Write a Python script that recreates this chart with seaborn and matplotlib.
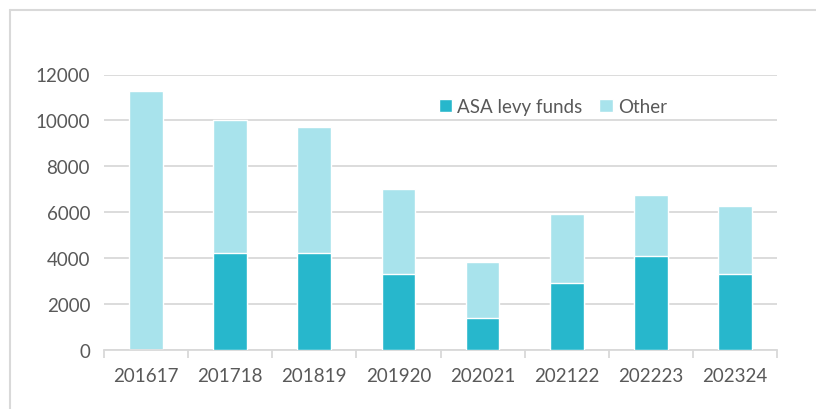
import matplotlib
matplotlib.use("Agg")
import matplotlib.pyplot as plt
import seaborn as sns
import pandas as pd
from matplotlib.lines import Line2D
from matplotlib.patches import Patch

# data
years = ["201617", "201718", "201819", "201920", "202021", "202122", "202223", "202324"]
asa_levy = [0, 4230, 4230, 3290, 1400, 2940, 4090, 3290]
other = [11300, 5770, 5500, 3710, 2430, 2970, 2660, 2970]

dark = "#27B7CC"
light = "#A8E3EC"
grid_c = "#D9D9D9"
text_c = "#595959"

df = pd.DataFrame({"year": years, "asa": asa_levy, "other": other})
df["total"] = df["asa"] + df["other"]

sns.set_style("white")
plt.rcParams["font.family"] = ["Lato", "DejaVu Sans"]

fig = plt.figure(figsize=(8.16, 4.10), dpi=100)
ax = fig.add_axes([104 / 816, 1 - 351 / 410, 673 / 816, 275.5 / 410])

# stacked bars: total drawn first (light), levy part on top of it (dark)
sns.barplot(data=df, x="year", y="total", color=light, width=0.4, ax=ax,
            saturation=1, zorder=2)
sns.barplot(data=df, x="year", y="asa", color=dark, width=0.4, ax=ax,
            saturation=1, zorder=3)

ax.set_ylim(0, 12000)
ax.set_xlim(-0.5, len(years) - 0.5)
ax.set_yticks(range(0, 12001, 2000))
ax.yaxis.grid(True, color=grid_c, linewidth=1.3, zorder=0)
ax.set_axisbelow(True)
for s in ["top", "right", "left"]:
    ax.spines[s].set_visible(False)
ax.spines["bottom"].set_color(grid_c)
ax.spines["bottom"].set_linewidth(1.3)
ax.set_xlabel("")
ax.set_ylabel("")

# category separator ticks on x axis
ax.set_xticks([i - 0.5 for i in range(len(years) + 1)], minor=True)
ax.tick_params(axis="x", which="minor", length=6, color=grid_c, width=1.3, bottom=True)
ax.tick_params(axis="x", which="major", length=0, pad=12, labelsize=13.5, labelcolor=text_c)
ax.tick_params(axis="y", length=0, pad=10, labelsize=13.5, labelcolor=text_c)

handles = [Patch(facecolor=dark, label="ASA levy funds"),
           Patch(facecolor=light, label="Other")]
ax.legend(handles=handles, loc="upper left", bbox_to_anchor=(0.472, 0.975),
          ncol=2, frameon=False, fontsize=13.5, labelcolor=text_c,
          handlelength=0.7, handleheight=0.7, handletextpad=0.3, columnspacing=0.9)

# partial frame around the chart area (left and top edges)
fig.add_artist(Line2D([10 / 816, 10 / 816], [0, 1 - 11 / 410], color=grid_c, lw=1.5))
fig.add_artist(Line2D([10 / 816, 1], [1 - 11 / 410, 1 - 11 / 410], color=grid_c, lw=1.5))

fig.savefig("out.png", dpi=100)
